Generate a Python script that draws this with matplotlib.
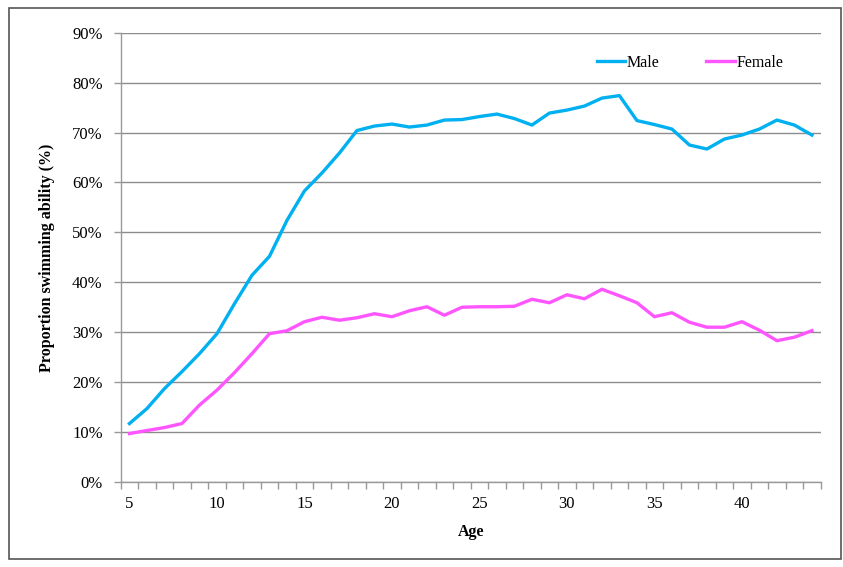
import matplotlib
matplotlib.use("Agg")
import matplotlib.pyplot as plt
from matplotlib.patches import Rectangle
from matplotlib.ticker import FixedLocator, PercentFormatter

ages = list(range(5, 45))
male = [11.7, 14.7, 18.7, 22.1, 25.7, 29.7, 35.7, 41.4, 45.2, 52.4,
        58.3, 61.9, 65.9, 70.4, 71.3, 71.7, 71.1, 71.5, 72.5, 72.6,
        73.2, 73.7, 72.8, 71.5, 73.9, 74.5, 75.3, 76.9, 77.4, 72.4,
        71.6, 70.7, 67.5, 66.7, 68.7, 69.5, 70.7, 72.5, 71.5, 69.5]
female = [9.7, 10.3, 10.9, 11.7, 15.4, 18.4, 21.9, 25.7, 29.7, 30.3,
          32.1, 33.0, 32.4, 32.9, 33.7, 33.1, 34.3, 35.1, 33.4, 35.0,
          35.1, 35.1, 35.2, 36.6, 35.9, 37.5, 36.7, 38.6, 37.3, 35.9,
          33.1, 33.9, 32.0, 31.0, 31.0, 32.1, 30.4, 28.3, 29.0, 30.3]
age_labels = [5, 10, 15, 20, 25, 30, 35, 40]
y_ticks = list(range(0, 91, 10))

plt.rcParams['font.family'] = ['Liberation Serif', 'DejaVu Serif']

fig = plt.figure(figsize=(8.43, 5.67), dpi=100)
ax = fig.add_axes([0.1432, 0.150, 0.8303, 0.7923])

ax.plot(ages, male, color='#00B0F0', lw=2.4, label='Male')
ax.plot(ages, female, color='#FF55FF', lw=2.4, label='Female')

ax.set_xlim(4.5, 44.5)
ax.set_ylim(0, 90)
ax.set_yticks(y_ticks)
ax.yaxis.set_major_formatter(PercentFormatter(decimals=0))
ax.set_xticks(age_labels)
ax.xaxis.set_minor_locator(FixedLocator([a - 0.5 for a in ages] + [44.5]))
ax.tick_params(axis='x', which='major', length=0, pad=10, labelsize=12)
ax.tick_params(axis='x', which='minor', length=5, width=1, color='#999999', direction='out')
ax.tick_params(axis='y', length=5, width=1, color='#999999', pad=8, labelsize=12)

ax.grid(axis='y', color='#8c8c8c', lw=1)
ax.set_axisbelow(True)
for s in ['top', 'right']:
    ax.spines[s].set_visible(False)
for s in ['left', 'bottom']:
    ax.spines[s].set_color('#999999')
    ax.spines[s].set_linewidth(1)

ax.set_xlabel('Age', fontweight='bold', fontsize=11.5, labelpad=9)
ax.set_ylabel('Proportion swimming ability (%)', fontweight='bold', fontsize=11.5, labelpad=12)

fig.legend(loc='center', bbox_to_anchor=(690 / 843, 1 - 63 / 567), ncol=2, frameon=False,
           fontsize=11.5, handlelength=1.8, handletextpad=0.1, columnspacing=2.9)

fig.patches.append(Rectangle((9 / 843, 1 - 559 / 567), 832 / 843, 551 / 567,
                             transform=fig.transFigure, fill=False,
                             edgecolor='#555555', lw=1.2))

fig.savefig('out.png', dpi=100)
